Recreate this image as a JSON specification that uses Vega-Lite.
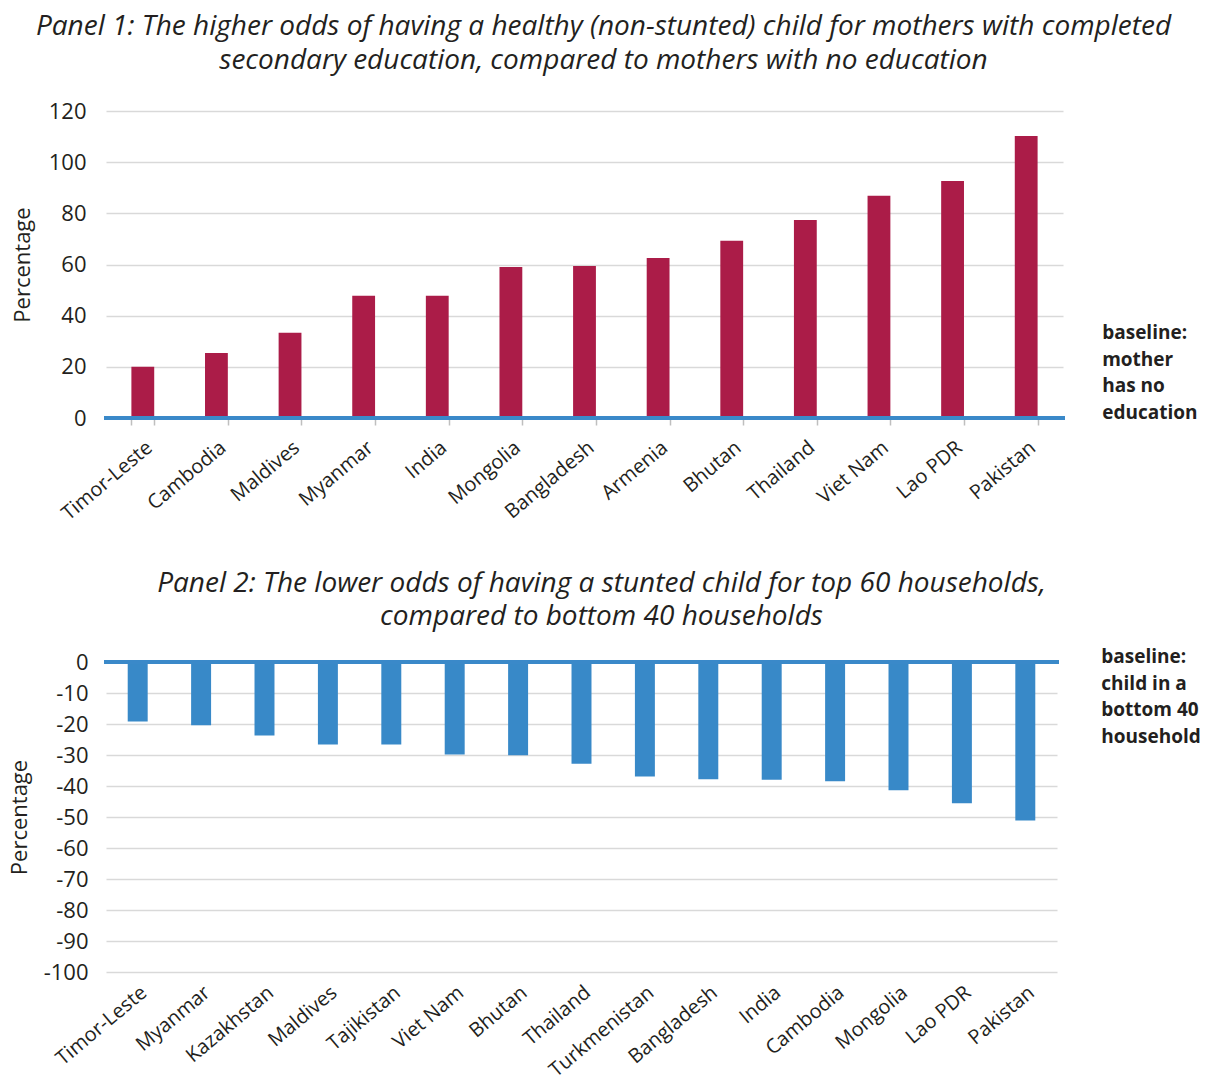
{
  "$schema": "https://vega.github.io/schema/vega-lite/v6.json",
  "padding": {"left": 8, "top": 13, "right": 5, "bottom": 5},
  "spacing": 46,
  "config": {
    "font": "Open Sans",
    "view": {"stroke": null},
    "axis": {"labelColor": "#231F20", "titleColor": "#231F20", "labelFont": "Open Sans", "titleFont": "Open Sans"},
    "title": {"font": "Open Sans", "color": "#231F20"}
  },
  "vconcat": [
    {
      "width": 957,
      "height": 307,
      "title": {
        "text": ["Panel 1: The higher odds of having a healthy (non-stunted) child for mothers with completed", "secondary education, compared to mothers with no education"],
        "fontStyle": "italic", "fontWeight": "normal", "fontSize": 28, "lineHeight": 34,
        "anchor": "middle", "dx": 19, "offset": 25
      },
      "data": {"values": [
        {"country": "Timor-Leste", "value": 20},
        {"country": "Cambodia", "value": 25.4},
        {"country": "Maldives", "value": 33.3},
        {"country": "Myanmar", "value": 47.8},
        {"country": "India", "value": 47.8},
        {"country": "Mongolia", "value": 59},
        {"country": "Bangladesh", "value": 59.4},
        {"country": "Armenia", "value": 62.5},
        {"country": "Bhutan", "value": 69.3},
        {"country": "Thailand", "value": 77.4},
        {"country": "Viet Nam", "value": 86.9},
        {"country": "Lao PDR", "value": 92.6},
        {"country": "Pakistan", "value": 110.2}
      ]},
      "layer": [
        {
          "mark": {"type": "bar", "color": "#AB1C48"},
          "encoding": {
            "x": {
              "field": "country", "type": "nominal", "sort": null,
              "scale": {"paddingInner": 0.69, "paddingOuter": 0.345},
              "axis": {
                "title": null, "labelAngle": -40, "labelFontSize": 20, "labelPadding": 12,
                "domain": false, "ticks": true, "tickBand": "extent", "tickColor": "#BFBFBF",
                "tickSize": 7, "tickWidth": 1.5, "labelOverlap": false
              }
            },
            "y": {
              "field": "value", "type": "quantitative",
              "scale": {"domain": [0, 120]},
              "axis": {
                "title": "Percentage", "titleFontSize": 22, "titleFontWeight": "normal", "titlePadding": 14,
                "values": [0, 20, 40, 60, 80, 100, 120], "labelFontSize": 22, "labelPadding": 20,
                "domain": false, "ticks": false, "gridColor": "#D9D9D9", "gridWidth": 1.5
              }
            }
          }
        },
        {
          "data": {"values": [{"value": 0}]},
          "mark": {"type": "rule", "color": "#3A89C9", "strokeWidth": 4, "strokeCap": "square"},
          "encoding": {
            "y": {
              "field": "value", "type": "quantitative",
              "axis": {
                "title": "Percentage", "titleFontSize": 22, "titleFontWeight": "normal", "titlePadding": 14,
                "values": [0, 20, 40, 60, 80, 100, 120], "labelFontSize": 22, "labelPadding": 20,
                "domain": false, "ticks": false, "gridColor": "#D9D9D9", "gridWidth": 1.5
              }
            }
          }
        },
        {
          "data": {"values": [{"label": "baseline:\nmother\nhas no\neducation", "country": "Pakistan", "value": 0}]},
          "mark": {"type": "text", "lineBreak": "\n", "align": "left", "baseline": "top", "dx": 76, "dy": -94, "fontWeight": "bold", "fontSize": 19, "lineHeight": 26.5, "color": "#231F20"},
          "encoding": {
            "x": {
              "field": "country", "type": "nominal", "sort": null,
              "axis": {
                "title": null, "labelAngle": -40, "labelFontSize": 20, "labelPadding": 12,
                "domain": false, "ticks": true, "tickBand": "extent", "tickColor": "#BFBFBF",
                "tickSize": 7, "tickWidth": 1.5, "labelOverlap": false
              }
            },
            "y": {
              "field": "value", "type": "quantitative",
              "axis": {
                "title": "Percentage", "titleFontSize": 22, "titleFontWeight": "normal", "titlePadding": 14,
                "values": [0, 20, 40, 60, 80, 100, 120], "labelFontSize": 22, "labelPadding": 20,
                "domain": false, "ticks": false, "gridColor": "#D9D9D9", "gridWidth": 1.5
              }
            },
            "text": {"field": "label"}
          }
        }
      ]
    },
    {
      "width": 951,
      "height": 310,
      "title": {
        "text": ["Panel 2: The lower odds of having a stunted child for top 60 households,", "compared to bottom 40 households"],
        "fontStyle": "italic", "fontWeight": "normal", "fontSize": 28, "lineHeight": 33,
        "anchor": "middle", "dx": 20, "offset": 17
      },
      "data": {"values": [
        {"country": "Timor-Leste", "value": -19.2},
        {"country": "Myanmar", "value": -20.4},
        {"country": "Kazakhstan", "value": -23.7},
        {"country": "Maldives", "value": -26.6},
        {"country": "Tajikistan", "value": -26.6},
        {"country": "Viet Nam", "value": -29.8},
        {"country": "Bhutan", "value": -30.1},
        {"country": "Thailand", "value": -32.8},
        {"country": "Turkmenistan", "value": -36.9},
        {"country": "Bangladesh", "value": -37.8},
        {"country": "India", "value": -38},
        {"country": "Cambodia", "value": -38.5},
        {"country": "Mongolia", "value": -41.4},
        {"country": "Lao PDR", "value": -45.6},
        {"country": "Pakistan", "value": -51.1}
      ]},
      "layer": [
        {
          "mark": {"type": "bar", "color": "#3889C8"},
          "encoding": {
            "x": {
              "field": "country", "type": "nominal", "sort": null,
              "scale": {"paddingInner": 0.685, "paddingOuter": 0.3425},
              "axis": {
                "title": null, "labelAngle": -40, "labelFontSize": 20, "labelPadding": 10,
                "domain": false, "ticks": false, "labelOverlap": false
              }
            },
            "y": {
              "field": "value", "type": "quantitative",
              "scale": {"domain": [-100, 0]},
              "axis": {
                "title": "Percentage", "titleFontSize": 22, "titleFontWeight": "normal", "titlePadding": 12,
                "values": [0, -10, -20, -30, -40, -50, -60, -70, -80, -90, -100], "labelExpr": "'' + datum.value",
                "labelFontSize": 22, "labelPadding": 18, "labelOverlap": false,
                "domain": false, "ticks": false, "gridColor": "#D9D9D9", "gridWidth": 1.5
              }
            }
          }
        },
        {
          "data": {"values": [{"value": 0}]},
          "mark": {"type": "rule", "color": "#3A89C9", "strokeWidth": 4, "strokeCap": "square"},
          "encoding": {
            "y": {
              "field": "value", "type": "quantitative",
              "axis": {
                "title": "Percentage", "titleFontSize": 22, "titleFontWeight": "normal", "titlePadding": 12,
                "values": [0, -10, -20, -30, -40, -50, -60, -70, -80, -90, -100], "labelExpr": "'' + datum.value",
                "labelFontSize": 22, "labelPadding": 18, "labelOverlap": false,
                "domain": false, "ticks": false, "gridColor": "#D9D9D9", "gridWidth": 1.5
              }
            }
          }
        },
        {
          "data": {"values": [{"label": "baseline:\nchild in a\nbottom 40\nhousehold", "country": "Pakistan", "value": 0}]},
          "mark": {"type": "text", "lineBreak": "\n", "align": "left", "baseline": "top", "dx": 76, "dy": -14, "fontWeight": "bold", "fontSize": 19, "lineHeight": 26.5, "color": "#231F20"},
          "encoding": {
            "x": {
              "field": "country", "type": "nominal", "sort": null,
              "axis": {
                "title": null, "labelAngle": -40, "labelFontSize": 20, "labelPadding": 10,
                "domain": false, "ticks": false, "labelOverlap": false
              }
            },
            "y": {
              "field": "value", "type": "quantitative",
              "axis": {
                "title": "Percentage", "titleFontSize": 22, "titleFontWeight": "normal", "titlePadding": 12,
                "values": [0, -10, -20, -30, -40, -50, -60, -70, -80, -90, -100], "labelExpr": "'' + datum.value",
                "labelFontSize": 22, "labelPadding": 18, "labelOverlap": false,
                "domain": false, "ticks": false, "gridColor": "#D9D9D9", "gridWidth": 1.5
              }
            },
            "text": {"field": "label"}
          }
        }
      ]
    }
  ]
}
